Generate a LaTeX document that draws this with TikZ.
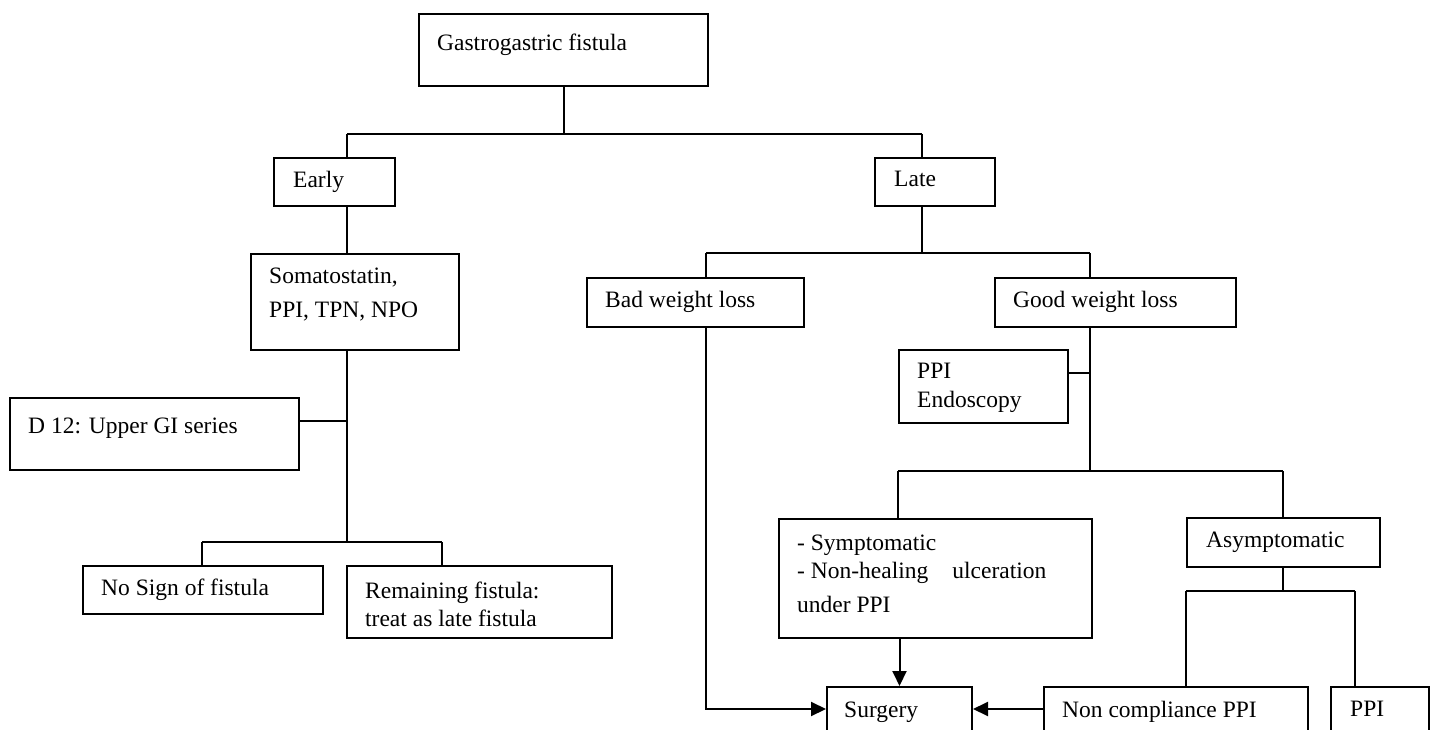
\documentclass[tikz,border=0pt]{standalone}
\usepackage{fontspec}
\setmainfont{Liberation Serif}
\usetikzlibrary{arrows.meta,calc}
\begin{document}
\begin{tikzpicture}[x=1pt,y=-1pt,
  box/.style={draw, line width=2pt, anchor=north west, inner sep=0pt, fill=white},
  txt/.style={anchor=west, inner sep=0pt, align=left, font=\fontsize{23.5}{29}\selectfont},
  conn/.style={line width=2pt},
  arr/.style={line width=2pt, -{Triangle[length=15pt,width=14pt]}}]
\clip (0,0) rectangle (1432,730);
\fill[white] (0,0) rectangle (1432,730);
% boxes
\node[box, minimum width=289pt, minimum height=72pt] (top) at (418,13) {};
\node[box, minimum width=121pt, minimum height=48pt] (early) at (273,157) {};
\node[box, minimum width=120pt, minimum height=48pt] (late) at (874,157) {};
\node[box, minimum width=208pt, minimum height=96pt] (soma) at (250,253) {};
\node[box, minimum width=289pt, minimum height=72pt] (d12) at (9,397) {};
\node[box, minimum width=240pt, minimum height=48pt] (nosign) at (82,565) {};
\node[box, minimum width=265pt, minimum height=72pt] (remain) at (346,565) {};
\node[box, minimum width=217pt, minimum height=49pt] (bad) at (586,277) {};
\node[box, minimum width=241pt, minimum height=49pt] (good) at (994,277) {};
\node[box, minimum width=169pt, minimum height=73pt] (ppie) at (898,349) {};
\node[box, minimum width=313pt, minimum height=119pt] (sympt) at (778,518) {};
\node[box, minimum width=193pt, minimum height=49pt] (asympt) at (1186,517) {};
\node[box, minimum width=145pt, minimum height=60pt] (surgery) at (826,686) {};
\node[box, minimum width=264pt, minimum height=60pt] (noncomp) at (1043,686) {};
\node[box, minimum width=98pt, minimum height=60pt] (ppi) at (1330,686) {};
% texts
\node[txt] (ttop) at (437,45) {Gastrogastric fistula};
\node[txt] (tearly) at (293,182) {Early};
\node[txt] (tlate) at (894,179) {Late};
\node[txt, font=\fontsize{23.5}{34}\selectfont] (tsoma) at (269,295) {Somatostatin,\\PPI, TPN, NPO};
\node[txt] (td12) at (28,428) {D 12: Upper GI series};
\node[txt] (tnosign) at (101,590) {No Sign of fistula};
\node[txt, font=\fontsize{23.5}{28}\selectfont] (tremain) at (365,604) {Remaining fistula:\\treat as late fistula};
\node[txt] (tbad) at (605,302) {Bad weight loss};
\node[txt] (tgood) at (1013,302) {Good weight loss};
\node[txt] (tppie) at (917,388) {PPI\\Endoscopy};
\node[txt, font=\fontsize{23.5}{28}\selectfont] (tsympt) at (797,574) {- Symptomatic\\- Non-healing\hspace{24pt}ulceration\\[6pt]under PPI};
\node[txt] (tasympt) at (1206,542) {Asymptomatic};
\node[txt] (tsurgery) at (844,712) {Surgery};
\node[txt] (tnoncomp) at (1062,712) {Non compliance PPI};
\node[txt] (tppi) at (1350,709) {PPI};
% junction coordinates
\coordinate (b1) at (347,134);
\coordinate (b2) at (922,134);
\coordinate (b3) at (347,542);
\coordinate (d) at (347,421);
\coordinate (b4) at (202,542);
\coordinate (b5) at (442,542);
\coordinate (c1) at (706,253);
\coordinate (c2) at (1090,253);
\coordinate (c3) at (1090,471);
\coordinate (c4) at (1090,373);
\coordinate (c5) at (898,471);
\coordinate (c6) at (1283,471);
\coordinate (c7) at (1186,591);
\coordinate (c8) at (1355,591);
\coordinate (a1) at (706,709);
% connectors
\draw[conn] (top.south) -- (top.south |- b1);
\draw[conn] (b1) -- (b2);
\draw[conn] (b1) -- (b1 |- early.north);
\draw[conn] (b2) -- (b2 |- late.north);
\draw[conn] (b1 |- early.south) -- (b1 |- soma.north);
\draw[conn] (b1 |- soma.south) -- (b3);
\draw[conn] (d12.east |- d) -- (d);
\draw[conn] (b4) -- (b5);
\draw[conn] (b4) -- (b4 |- nosign.north);
\draw[conn] (b5) -- (b5 |- remain.north);
\draw[conn] (b2 |- late.south) -- (b2 |- c1);
\draw[conn] (c1) -- (c2);
\draw[conn] (c2) -- (c2 |- good.north);
\draw[conn] (c1) -- (c1 |- bad.north);
\draw[conn] (c2 |- good.south) -- (c3);
\draw[conn] (c4 -| ppie.east) -- (c4);
\draw[conn] (c5) -- (c6);
\draw[conn] (c5) -- (c5 |- sympt.north);
\draw[conn] (c6) -- (c6 |- asympt.north);
\draw[conn] (c6 |- asympt.south) -- (c6 |- c7);
\draw[conn] (c7) -- (c8);
\draw[conn] (c7) -- (c7 |- noncomp.north);
\draw[conn] (c8) -- (c8 |- ppi.north);
% arrows
\draw[arr] (c1 |- bad.south) -- (a1) -- (a1 -| surgery.west);
\draw[arr] (surgery.north |- sympt.south) -- (surgery.north);
\draw[arr] (noncomp.west |- a1) -- (a1 -| surgery.east);
\end{tikzpicture}
\end{document}
